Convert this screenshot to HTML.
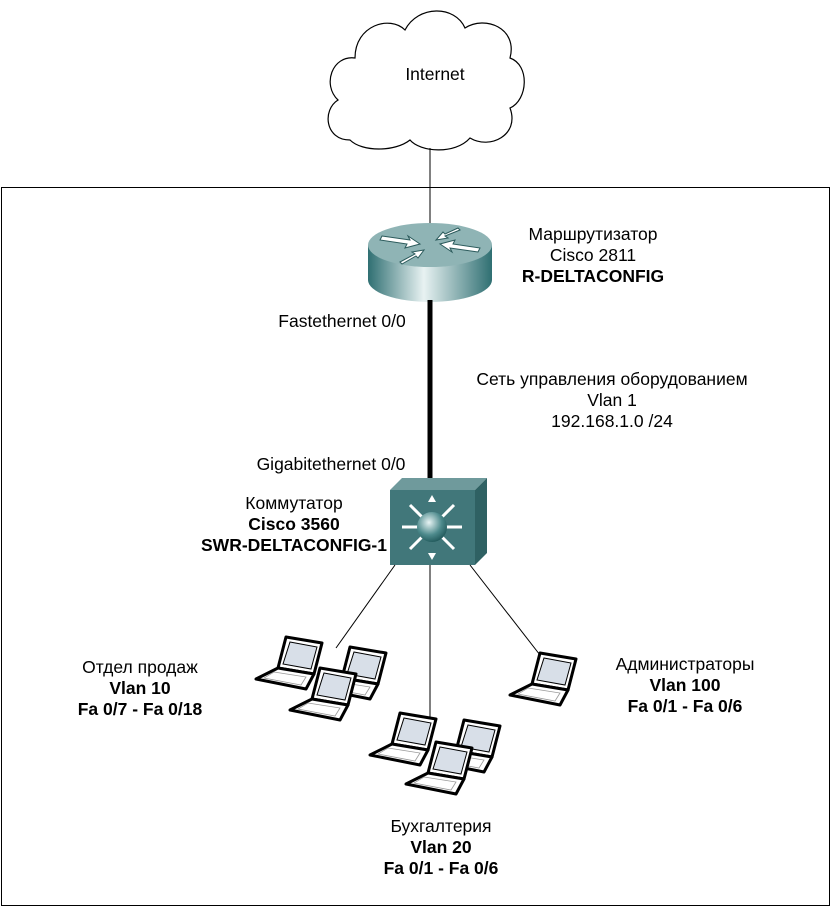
<!DOCTYPE html>
<html><head><meta charset="utf-8"><style>
body{margin:0;background:#fff;}
svg{display:block}
text{font-family:"Liberation Sans",sans-serif;font-size:17.5px;fill:#000}
.b{font-weight:bold}
</style></head><body>
<svg width="832" height="908" viewBox="0 0 832 908" xmlns="http://www.w3.org/2000/svg">
<defs>
<linearGradient id="rb" x1="0" x2="1">
<stop offset="0" stop-color="#2f6f72"/><stop offset="0.45" stop-color="#e8f2f2"/><stop offset="1" stop-color="#2f6f72"/></linearGradient>
<radialGradient id="ball" cx="0.4" cy="0.35" r="0.7"><stop offset="0" stop-color="#e8f4f4"/><stop offset="0.6" stop-color="#4d8a8c"/><stop offset="1" stop-color="#1e5557"/></radialGradient>
<g id="lap">
<polygon points="30,0 66,6 58,37 22,31" fill="#fff" stroke="#000" stroke-width="3" stroke-linejoin="round"/>
<polygon points="34,5 61,10 55,32 27,27" fill="#d8dfe8" stroke="#000" stroke-width="1"/>
<polygon points="22,31 58,37 50,52 0,42" fill="#fff" stroke="#000" stroke-width="3" stroke-linejoin="round"/>
<polygon points="18,35 50,40 45,48 8,41" fill="none" stroke="#999" stroke-width="0.8"/>
</g>
</defs>
<rect x="1.5" y="187.5" width="828" height="718" fill="none" stroke="#000" stroke-width="1"/>
<path d="M350,140 C325,140 322,110 338,100 C322,85 332,55 355,58 C355,25 390,15 405,30 C418,5 455,5 465,28 C485,15 518,28 510,58 C530,65 528,100 510,108 C520,135 490,150 470,138 C455,155 420,152 410,140 C395,152 362,152 350,140 Z" fill="#fff" stroke="#000" stroke-width="1.2"/>
<text x="435" y="80" text-anchor="middle">Internet</text>
<line x1="430" y1="148" x2="430" y2="225" stroke="#000" stroke-width="1"/>
<path d="M368,245 L368,280 A62,22 0 0 0 492,280 L492,245 Z" fill="url(#rb)"/>
<ellipse cx="430" cy="245" rx="62" ry="22" fill="#8fb4b5"/>
<g fill="#fff" stroke="#2c5b5c" stroke-width="1">
<polygon points="382,236 410,240 408,236 420,244 405,248 407,244 380,240"/>
<polygon points="478,252 450,248 452,252 440,244 455,240 453,244 480,248"/>
<polygon points="460,230 445,236 448,238 436,240 443,232 445,234 458,228"/>
<polygon points="400,262 415,254 412,252 424,250 418,258 416,256 402,264"/>
</g>
<line x1="430" y1="300" x2="430" y2="480" stroke="#000" stroke-width="5"/>
<polygon points="390,490 402,478 487,478 475,490" fill="#6f9a9c"/>
<polygon points="475,490 487,478 487,553 475,565" fill="#2f6163"/>
<rect x="390" y="490" width="85" height="75" fill="#41777a"/>
<g stroke="#fff" stroke-width="3" fill="#fff">
<line x1="432" y1="527" x2="402" y2="527"/><line x1="432" y1="527" x2="462" y2="527"/>
<line x1="432" y1="527" x2="410" y2="505"/><line x1="432" y1="527" x2="454" y2="505"/>
<line x1="432" y1="527" x2="410" y2="549"/><line x1="432" y1="527" x2="454" y2="549"/>
</g>
<polygon points="432,495 428,502 436,502" fill="#fff"/>
<polygon points="432,560 428,553 436,553" fill="#fff"/>
<circle cx="432" cy="527" r="15" fill="url(#ball)"/>
<line x1="395" y1="565" x2="336" y2="648" stroke="#000" stroke-width="1"/>
<line x1="430" y1="565" x2="430" y2="738" stroke="#000" stroke-width="1"/>
<line x1="470" y1="565" x2="540" y2="655" stroke="#000" stroke-width="1"/>
<use href="#lap" x="256" y="637"/>
<use href="#lap" x="320" y="647"/>
<use href="#lap" x="290" y="668"/>
<use href="#lap" x="370" y="713"/>
<use href="#lap" x="434" y="720"/>
<use href="#lap" x="406" y="742"/>
<use href="#lap" x="510" y="653"/>
<text x="593" y="240" text-anchor="middle">Маршрутизатор</text>
<text x="593" y="261" text-anchor="middle">Cisco 2811</text>
<text x="593" y="282" text-anchor="middle" class="b">R-DELTACONFIG</text>
<text x="342" y="327" text-anchor="middle">Fastethernet 0/0</text>
<text x="612" y="385" text-anchor="middle">Сеть управления оборудованием</text>
<text x="612" y="406" text-anchor="middle">Vlan 1</text>
<text x="612" y="427" text-anchor="middle">192.168.1.0 /24</text>
<text x="331" y="470" text-anchor="middle">Gigabitethernet 0/0</text>
<text x="294" y="509" text-anchor="middle">Коммутатор</text>
<text x="294" y="530" text-anchor="middle" class="b">Cisco 3560</text>
<text x="294" y="551" text-anchor="middle" class="b">SWR-DELTACONFIG-1</text>
<text x="140" y="673" text-anchor="middle">Отдел продаж</text>
<text x="140" y="694" text-anchor="middle" class="b">Vlan 10</text>
<text x="140" y="715" text-anchor="middle" class="b">Fa 0/7  - Fa 0/18</text>
<text x="685" y="670" text-anchor="middle">Администраторы</text>
<text x="685" y="691" text-anchor="middle" class="b">Vlan 100</text>
<text x="685" y="712" text-anchor="middle" class="b">Fa 0/1  - Fa 0/6</text>
<text x="441" y="832" text-anchor="middle">Бухгалтерия</text>
<text x="441" y="853" text-anchor="middle" class="b">Vlan 20</text>
<text x="441" y="874" text-anchor="middle" class="b">Fa 0/1  - Fa 0/6</text>
</svg>
</body></html>
